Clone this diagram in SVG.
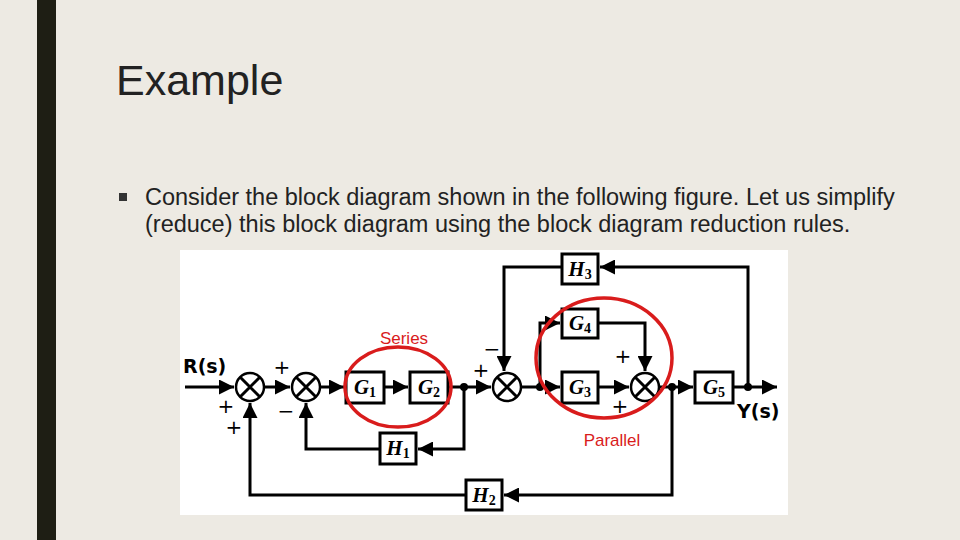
<svg xmlns="http://www.w3.org/2000/svg" width="960" height="540" viewBox="0 0 960 540">
<defs>
<marker id="ar" viewBox="0 0 10 10" refX="10" refY="5" markerWidth="5" markerHeight="5" orient="auto"><path d="M0,0L10,5L0,10z" fill="#000"/></marker>
<style>
.ln{fill:none;stroke:#000;stroke-width:3}
.bx{fill:#fff;stroke:#000;stroke-width:3}
.sm{fill:#fff;stroke:#000;stroke-width:2.5}
.bl{font-family:"Liberation Serif",serif;font-style:italic;font-weight:bold;font-size:21px;text-anchor:middle}
.sub{font-size:14px;font-style:normal}
.sg{font-family:"DejaVu Sans",sans-serif;font-size:20px;text-anchor:middle}
.rd{fill:none;stroke:#d91c1c;stroke-width:3.5}
.rt{font-family:"Liberation Sans",sans-serif;font-size:17px;fill:#d91c1c;text-anchor:middle}
.io{font-family:"DejaVu Sans",sans-serif;font-weight:bold;font-size:19px}
</style>
</defs>
<rect width="960" height="540" fill="#edeae3"/>
<rect x="37" y="0" width="19" height="540" fill="#1e1e14"/>
<text x="116" y="95" font-family="Liberation Sans,sans-serif" font-size="43" fill="#222">Example</text>
<rect x="119" y="193" width="8" height="8" fill="#333"/>
<text font-family="Liberation Sans,sans-serif" font-size="23.5" fill="#222"><tspan x="145" y="205">Consider the block diagram shown in the following figure. Let us simplify</tspan><tspan x="145" y="232">(reduce) this block diagram using the block diagram reduction rules.</tspan></text>
<rect x="180" y="250" width="608" height="265" fill="#fff"/>
<g id="connectors">
<path class="ln" d="M185,387H234" marker-end="url(#ar)"/>
<path class="ln" d="M264,387H290" marker-end="url(#ar)"/>
<path class="ln" d="M320,387H344" marker-end="url(#ar)"/>
<path class="ln" d="M384,387H408" marker-end="url(#ar)"/>
<path class="ln" d="M448,387H491" marker-end="url(#ar)"/>
<path class="ln" d="M464,387V449H418" marker-end="url(#ar)"/>
<path class="ln" d="M380,449H306V403" marker-end="url(#ar)"/>
<path class="ln" d="M521,387H560" marker-end="url(#ar)"/>
<path class="ln" d="M540,387V323H560" marker-end="url(#ar)"/>
<path class="ln" d="M598,387H629" marker-end="url(#ar)"/>
<path class="ln" d="M598,323H645V371" marker-end="url(#ar)"/>
<path class="ln" d="M659,387H693" marker-end="url(#ar)"/>
<path class="ln" d="M733,387H777" marker-end="url(#ar)"/>
<path class="ln" d="M748,387V267H600" marker-end="url(#ar)"/>
<path class="ln" d="M562,267H504V371" marker-end="url(#ar)"/>
<path class="ln" d="M672,387V495H504" marker-end="url(#ar)"/>
<path class="ln" d="M466,495H250V403" marker-end="url(#ar)"/>
<circle cx="464" cy="387" r="4"/><circle cx="540" cy="387" r="4"/><circle cx="672" cy="387" r="4"/><circle cx="748" cy="387" r="4"/>
</g>
<g id="sum1"><circle class="sm" cx="250" cy="387" r="14"/><path class="ln" stroke-width="2" d="M240,377L260,397M260,377L240,397"/></g>
<g id="sum2"><circle class="sm" cx="306" cy="387" r="14"/><path class="ln" stroke-width="2" d="M296,377L316,397M316,377L296,397"/></g>
<g id="sum3"><circle class="sm" cx="507" cy="387" r="14"/><path class="ln" stroke-width="2" d="M497,377L517,397M517,377L497,397"/></g>
<g id="sum4"><circle class="sm" cx="645" cy="387" r="14"/><path class="ln" stroke-width="2" d="M635,377L655,397M655,377L635,397"/></g>
<g id="G1"><rect class="bx" x="346" y="372" width="38" height="31"/><text class="bl" x="365" y="394">G<tspan class="sub" dy="3">1</tspan></text></g>
<g id="G2"><rect class="bx" x="410" y="372" width="38" height="31"/><text class="bl" x="429" y="394">G<tspan class="sub" dy="3">2</tspan></text></g>
<g id="H1"><rect class="bx" x="380" y="433" width="36" height="31"/><text class="bl" x="398" y="455">H<tspan class="sub" dy="3">1</tspan></text></g>
<g id="G3"><rect class="bx" x="562" y="372" width="36" height="31"/><text class="bl" x="580" y="394">G<tspan class="sub" dy="3">3</tspan></text></g>
<g id="G4"><rect class="bx" x="562" y="309" width="36" height="29"/><text class="bl" x="580" y="330">G<tspan class="sub" dy="3">4</tspan></text></g>
<g id="G5"><rect class="bx" x="695" y="372" width="38" height="31"/><text class="bl" x="714" y="394">G<tspan class="sub" dy="3">5</tspan></text></g>
<g id="H3"><rect class="bx" x="562" y="254" width="36" height="30"/><text class="bl" x="580" y="276">H<tspan class="sub" dy="3">3</tspan></text></g>
<g id="H2"><rect class="bx" x="466" y="480" width="36" height="30"/><text class="bl" x="484" y="502">H<tspan class="sub" dy="3">2</tspan></text></g>
<g id="signs">
<text class="sg" x="226" y="413">+</text><text class="sg" x="234" y="434">+</text>
<text class="sg" x="282" y="374">+</text><text class="sg" x="286" y="418">−</text>
<text class="sg" x="492" y="356">−</text><text class="sg" x="481" y="377">+</text>
<text class="sg" x="623" y="363">+</text><text class="sg" x="620" y="413">+</text>
</g>
<text class="io" x="183" y="373">R(s)</text>
<text class="io" x="737" y="418">Y(s)</text>
<g id="series"><ellipse class="rd" cx="398" cy="387" rx="53" ry="40"/><text class="rt" x="404" y="344">Series</text></g>
<g id="parallel"><ellipse class="rd" cx="604" cy="358" rx="68" ry="60"/><text class="rt" x="612" y="446">Parallel</text></g>
</svg>
